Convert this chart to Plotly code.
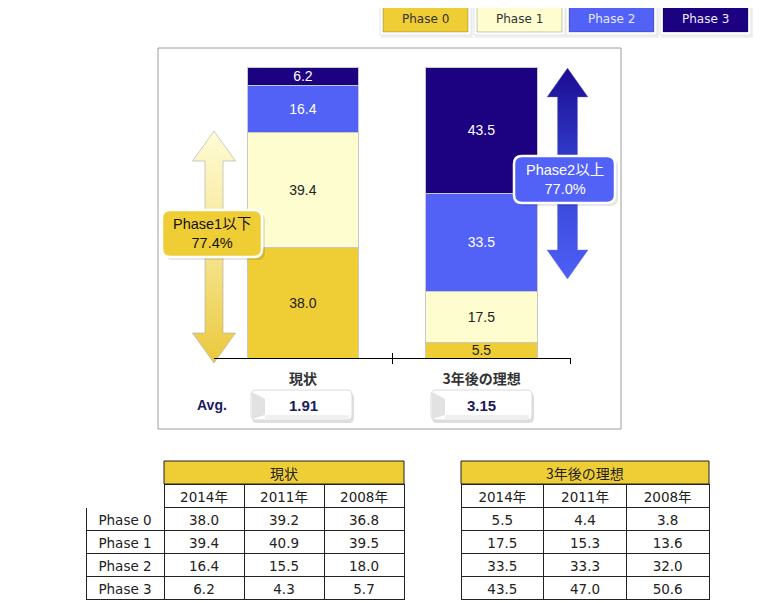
import plotly.graph_objects as go

# the page puts the plot 8px in from the top-left corner
OFF = 8
W, H = 764 - OFF, 603 - OFF

PHASES = ["Phase 0", "Phase 1", "Phase 2", "Phase 3"]
CATEGORIES = ["現状", "3年後の理想"]
YEARS = ["2014年", "2011年", "2008年"]

# share (%) per phase, 2014 survey -> stacked bars
NOW_2014 = [38.0, 39.4, 16.4, 6.2]
IDEAL_2014 = [5.5, 17.5, 33.5, 43.5]
AVERAGES = [1.91, 3.15]

# earlier surveys, table only
NOW_2011 = [39.2, 40.9, 15.5, 4.3]
NOW_2008 = [36.8, 39.5, 18.0, 5.7]
IDEAL_2011 = [4.4, 15.3, 33.3, 47.0]
IDEAL_2008 = [3.8, 13.6, 32.0, 50.6]

_INK = "#222222"
_NAVY = "#1a1a5e"
_GOLD = "#efcd35"
_COLORS = [_GOLD, "#fdfdd0", "#5262f7", "#1c0180"]
_TEXT = ["#222222", "#222222", "#ffffff", "#ffffff"]
_LEG_TEXT = ["#333333", "#333333", "#e4e7ff", "#ececff"]
_SANS = "Liberation Sans, Noto Sans CJK JP, sans-serif"
_CJK = "Noto Sans CJK JP, DejaVu Sans, sans-serif"
_TBL = "DejaVu Sans, Noto Sans CJK JP, sans-serif"


# pixel calibration (screen px): category 0 at x=303, 1 unit = 178.5px;
# value 0 at y=358, 100 at y=67
def dx(x):
    return (x - 303) / 178.5


def dy(y):
    return (358 - y) / 2.91


def px(x):
    return (x - OFF) / W


def py(y):
    return 1 - (y - OFF) / H


def rounded(x0, y0, x1, y1, r):
    return (
        f"M {px(x0 + r)} {py(y0)} L {px(x1 - r)} {py(y0)} "
        f"Q {px(x1)} {py(y0)} {px(x1)} {py(y0 + r)} L {px(x1)} {py(y1 - r)} "
        f"Q {px(x1)} {py(y1)} {px(x1 - r)} {py(y1)} L {px(x0 + r)} {py(y1)} "
        f"Q {px(x0)} {py(y1)} {px(x0)} {py(y1 - r)} L {px(x0)} {py(y0 + r)} "
        f"Q {px(x0)} {py(y0)} {px(x0 + r)} {py(y0)} Z"
    )


def arrow_xy(cx, top, bottom, head, hw, sw):
    pts = [
        (cx, top), (cx + hw, top + head), (cx + sw, top + head),
        (cx + sw, bottom - head), (cx + hw, bottom - head), (cx, bottom),
        (cx - hw, bottom - head), (cx - sw, bottom - head),
        (cx - sw, top + head), (cx - hw, top + head), (cx, top),
    ]
    return [dx(p[0]) for p in pts], [dy(p[1]) for p in pts]


def label(x, y, text, font, xref="paper"):
    return dict(xref=xref, yref="paper", x=x, y=y, text=text, showarrow=False,
                xanchor="center", yanchor="middle", font=font)


fig = go.Figure()

for i, phase in enumerate(PHASES):
    fig.add_trace(
        go.Bar(
            x=[0, 1],
            y=[NOW_2014[i], IDEAL_2014[i]],
            name=phase,
            width=0.627,
            marker={"color": _COLORS[i], "line": {"color": "#c8c8c8", "width": 1}},
            texttemplate="%{y:.1f}",
            textposition="inside",
            insidetextanchor="middle",
            textfont={"family": _SANS, "size": 14, "color": _TEXT[i]},
            hoverinfo="skip",
        )
    )

# the two range arrows
ax, ay = arrow_xy(214, 131, 363, 30, 21.5, 9)
fig.add_trace(
    go.Scatter(
        x=ax, y=ay, mode="lines", fill="toself",
        line={"color": "rgba(170,170,170,0.6)", "width": 1},
        fillgradient={"type": "vertical", "start": dy(363), "stop": dy(131),
                      "colorscale": [[0, "#ebc83c"], [0.45, "#f5e38a"], [1, "#fffcd6"]]},
        hoverinfo="skip",
    )
)
ax, ay = arrow_xy(567.5, 68, 279, 29, 20.5, 10)
fig.add_trace(
    go.Scatter(
        x=ax, y=ay, mode="lines", fill="toself",
        line={"color": "rgba(120,120,200,0.4)", "width": 1},
        fillgradient={"type": "vertical", "start": dy(279), "stop": dy(68),
                      "colorscale": [[0, "#4e5ff7"], [0.5, "#3443d2"], [1, "#1c0c92"]]},
        hoverinfo="skip",
    )
)

# empty traces so the visible category axis gets drawn
fig.add_trace(go.Scatter(x=[], y=[], xaxis="x2", yaxis="y2", hoverinfo="skip"))
fig.add_trace(go.Scatter(x=[], y=[], xaxis="x3", yaxis="y2", hoverinfo="skip"))


def fmt(vals):
    return [f"{v:.1f}" for v in vals]


_tfont = {"family": _TBL, "size": 13.5, "color": _INK}

fig.add_trace(
    go.Table(
        domain={"x": [px(86), px(404)], "y": [0, py(484)]},
        columnwidth=[78, 80, 80, 80],
        header={
            "values": [""] + YEARS,
            "height": 23,
            "fill": {"color": "white"},
            "line": {"color": ["white", _INK, _INK, _INK], "width": 1},
            "font": _tfont,
            "align": "center",
        },
        cells={
            "values": [PHASES, fmt(NOW_2014), fmt(NOW_2011), fmt(NOW_2008)],
            "height": 23,
            "fill": {"color": "white"},
            "line": {"color": _INK, "width": 1},
            "font": _tfont,
            "align": "center",
        },
    )
)
fig.add_trace(
    go.Table(
        domain={"x": [px(461), px(709)], "y": [0, py(484)]},
        header={
            "values": YEARS,
            "height": 23,
            "fill": {"color": "white"},
            "line": {"color": _INK, "width": 1},
            "font": _tfont,
            "align": "center",
        },
        cells={
            "values": [fmt(IDEAL_2014), fmt(IDEAL_2011), fmt(IDEAL_2008)],
            "height": 23,
            "fill": {"color": "white"},
            "line": {"color": _INK, "width": 1},
            "font": _tfont,
            "align": "center",
        },
    )
)

shapes = []
annotations = []

# chart frame
shapes.append(dict(type="rect", xref="paper", yref="paper", x0=px(158), x1=px(621),
                   y0=py(429), y1=py(48), line={"color": "#9c9c9c", "width": 1},
                   layer="below"))

# legend buttons
for i, phase in enumerate(PHASES):
    x0 = [383, 477, 569, 663][i]
    x1 = x0 + 85
    shapes.append(dict(type="rect", xref="paper", yref="paper", x0=px(x0 - 2), x1=px(x1 + 5),
                       y0=py(38), y1=py(4), fillcolor="rgba(0,0,0,0.06)", line_width=0))
    shapes.append(dict(type="rect", xref="paper", yref="paper", x0=px(x0 - 3), x1=px(x1 + 3),
                       y0=py(35), y1=py(3), fillcolor="white",
                       line={"color": "#e4e4e4", "width": 1}))
    shapes.append(dict(type="rect", xref="paper", yref="paper", x0=px(x0), x1=px(x1),
                       y0=py(32), y1=py(6), fillcolor=_COLORS[i],
                       line={"color": "rgba(0,0,0,0.22)", "width": 1}))
    annotations.append(label(px((x0 + x1) / 2), py(19), phase,
                             {"family": "DejaVu Sans", "size": 12, "color": _LEG_TEXT[i]}))

# range labels
for (x0, y0, x1, y1), fill, color, text in [
    ((162, 210, 262, 257), _GOLD, "#111111",
     f"Phase1以下<br>{NOW_2014[0] + NOW_2014[1]:.1f}%"),
    ((514, 156, 615, 203), "#5262f7", "#ffffff",
     f"Phase2以上<br>{IDEAL_2014[2] + IDEAL_2014[3]:.1f}%"),
]:
    shapes.append(dict(type="path", xref="paper", yref="paper",
                       path=rounded(x0 + 3, y0 + 3, x1 + 3, y1 + 3, 8),
                       fillcolor="rgba(0,0,0,0.10)", line_width=0))
    shapes.append(dict(type="path", xref="paper", yref="paper",
                       path=rounded(x0, y0, x1, y1, 8), fillcolor=fill,
                       line={"color": "white", "width": 2.5}))
    annotations.append(label(px((x0 + x1) / 2), py((y0 + y1) / 2), text,
                             {"family": _SANS, "size": 14.5, "color": color}))

# average boxes
annotations.append(label(px(212), py(405), "<b>Avg.</b>",
                         {"family": _SANS, "size": 14, "color": _NAVY}))
for i, avg in enumerate(AVERAGES):
    x0 = [251, 431][i]
    x1 = x0 + 101
    y0, y1 = 390, 420
    shapes.append(dict(type="path", xref="paper", yref="paper",
                       path=rounded(x0 + 1, y0 + 3, x1 + 2, y1 + 3, 5),
                       fillcolor="rgba(0,0,0,0.13)", line_width=0))
    shapes.append(dict(type="path", xref="paper", yref="paper",
                       path=rounded(x0, y0, x1, y1, 5), fillcolor="white",
                       line={"color": "#dadada", "width": 1}))
    shapes.append(dict(type="path", xref="paper", yref="paper",
                       path=(f"M {px(x0 + 1)} {py(y0 + 2)} L {px(x0 + 14)} {py(y0 + 9)} "
                             f"L {px(x0 + 14)} {py(y1 - 5)} L {px(x0 + 1)} {py(y1 - 1)} Z"),
                       fillcolor="#e2e2e2", line_width=0))
    shapes.append(dict(type="rect", xref="paper", yref="paper", x0=px(x0 + 14), x1=px(x1 - 3),
                       y0=py(y1 - 1), y1=py(y1 - 5), fillcolor="#f0f0f0", line_width=0))
    annotations.append(label(i, py(405), f"<b>{avg:.2f}</b>",
                             {"family": _SANS, "size": 15, "color": _NAVY}, xref="x2"))

# table title rows
for (x0, x1), title in [((164, 404), CATEGORIES[0]), ((461, 709), CATEGORIES[1])]:
    shapes.append(dict(type="rect", xref="paper", yref="paper", x0=px(x0), x1=px(x1),
                       y0=py(484), y1=py(461), fillcolor=_GOLD,
                       line={"color": _INK, "width": 1}))
    annotations.append(label(px((x0 + x1) / 2), py(472.5), title,
                             {"family": _CJK, "size": 14, "color": _INK}))

fig.update_layout(
    width=W,
    height=H,
    margin={"l": 0, "r": 0, "t": 0, "b": 0},
    paper_bgcolor="white",
    plot_bgcolor="rgba(0,0,0,0)",
    barmode="stack",
    showlegend=False,
    uniformtext={"minsize": 14, "mode": "show"},
    xaxis={"domain": [0, 1], "range": [dx(OFF), dx(OFF + W)], "visible": False,
           "fixedrange": True},
    yaxis={"domain": [0, 1], "range": [dy(OFF + H), dy(OFF)], "visible": False,
           "fixedrange": True},
    xaxis2={
        "domain": [px(213.75), px(570.75)],
        "range": [-0.5, 1.5],
        "anchor": "y2",
        "showline": True,
        "linecolor": "#000000",
        "linewidth": 1,
        "showgrid": False,
        "zeroline": False,
        "tickvals": [0, 1],
        "ticktext": CATEGORIES,
        "ticks": "",
        "ticklabelstandoff": 8,
        "tickfont": {"family": _CJK, "size": 14, "color": "#333333", "weight": "bold"},
        "minor": {"tickvals": [0.5, 1.5], "ticks": "outside", "ticklen": 5,
                  "tickcolor": "#000000", "showgrid": False},
    },
    xaxis3={
        "overlaying": "x2",
        "range": [-0.5, 1.5],
        "anchor": "y2",
        "showgrid": False,
        "zeroline": False,
        "showline": False,
        "tickvals": [0.5, 1.5],
        "ticks": "inside",
        "ticklen": 5,
        "tickcolor": "#000000",
        "showticklabels": False,
    },
    yaxis2={"domain": [py(358), py(67)], "range": [0, 100], "visible": False},
    shapes=shapes,
    annotations=annotations,
)

fig.write_html("out.html")
